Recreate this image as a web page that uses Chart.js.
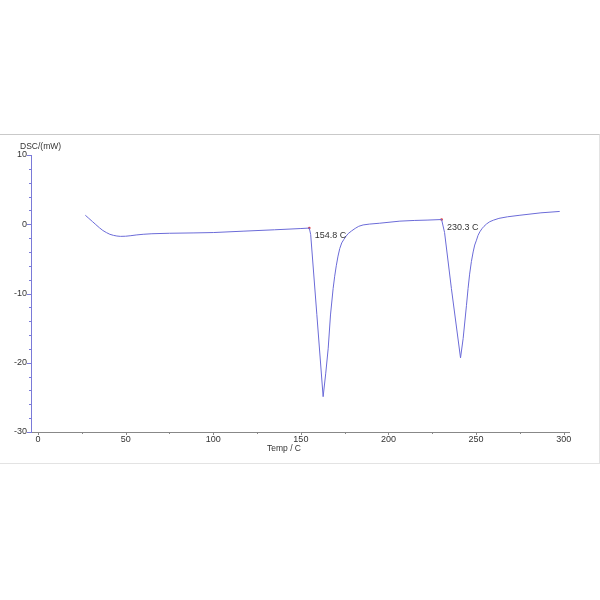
<!DOCTYPE html>
<html>
<head>
<meta charset="utf-8">
<script src="https://cdn.jsdelivr.net/npm/chart.js@4.4.1/dist/chart.umd.min.js"></script>
<style>
  html, body { margin: 0; padding: 0; background: #fff; }
  #wrap { position: absolute; left: 0; top: 0; width: 600px; height: 600px; }
</style>
</head>
<body>
<div id="wrap"><canvas id="c" width="600" height="600"></canvas></div>
<script>
// Temperature (C) and DSC signal (mW)
const temps = [27, 29, 31, 33, 35, 37, 39, 41, 43, 45, 47, 50, 53, 56, 60, 65, 75, 89, 100, 117, 135, 150, 154.8,
  155.6, 159.1, 162.7, 164.2, 165.6, 166.9, 168.4, 169.3, 170.2, 171.2, 172.2, 173.3, 174.5, 175.7, 177, 179, 181, 183, 185.5, 189, 195, 206.5, 215, 222, 230.3,
  232, 235.9, 241.1, 242.6, 244.5, 245.4, 246.3, 247.3, 248.3, 249.2, 250.2, 251.1, 252.1, 253.3, 254.5, 256, 257.8, 260, 263, 268, 275, 287, 297.7];
const dsc = [1.3, 0.85, 0.4, -0.05, -0.5, -0.9, -1.2, -1.45, -1.6, -1.7, -1.75, -1.73, -1.65, -1.55, -1.45, -1.37, -1.3, -1.25, -1.2, -1.0, -0.8, -0.62, -0.55,
  -1.5, -13.0, -24.9, -21.5, -17.9, -13.1, -9.3, -7.5, -6.0, -4.6, -3.5, -2.7, -2.2, -1.75, -1.35, -0.95, -0.6, -0.3, -0.1, 0.02, 0.15, 0.45, 0.55, 0.6, 0.68,
  -1.2, -9.3, -19.3, -16.5, -11.7, -9.3, -7.2, -5.4, -4.0, -3.0, -2.3, -1.6, -1.1, -0.65, -0.3, 0.05, 0.37, 0.6, 0.85, 1.08, 1.3, 1.65, 1.85];
// Onset annotations
const onsetTemps = [154.8, 230.3];
const onsetValues = [-0.55, 0.68];
const onsetLabels = ['154.8 C', '230.3 C'];
// Axis ticks
const xMajorTicks = [0, 50, 100, 150, 200, 250, 300];
const xMinorTicks = [25, 75, 125, 175, 225, 275];
const yMajorTicks = [10, 0, -10, -20, -30];
const yMinorTicks = [8, 6, 4, 2, -2, -4, -6, -8, -12, -14, -16, -18, -22, -24, -26, -28];
const xTitle = 'Temp / C';
const yTitle = 'DSC/(mW)';

const FONT = '"Liberation Sans", Arial, sans-serif';
const LINE = '#6b6bd8';

const deco = {
  id: 'deco',
  beforeDraw(chart) {
    const ctx = chart.ctx;
    ctx.save();
    ctx.strokeStyle = '#c9c9c9';
    ctx.lineWidth = 1;
    ctx.beginPath(); ctx.moveTo(0, 134.5); ctx.lineTo(600, 134.5); ctx.stroke();
    ctx.strokeStyle = '#e3e3e3';
    ctx.beginPath(); ctx.moveTo(0, 463.5); ctx.lineTo(600, 463.5); ctx.stroke();
    ctx.beginPath(); ctx.moveTo(599.5, 134.5); ctx.lineTo(599.5, 463.5); ctx.stroke();
    ctx.restore();
  },
  afterDraw(chart) {
    const ctx = chart.ctx;
    const xs = chart.scales.x, ys = chart.scales.y;
    const a = chart.chartArea;
    ctx.save();
    ctx.lineWidth = 1;
    ctx.strokeStyle = '#7a7ad8';
    yMajorTicks.forEach(v => { const y = Math.round(ys.getPixelForValue(v)) + 0.5; ctx.beginPath(); ctx.moveTo(a.left - 4, y); ctx.lineTo(a.left, y); ctx.stroke(); });
    yMinorTicks.forEach(v => { const y = Math.round(ys.getPixelForValue(v)) + 0.5; ctx.beginPath(); ctx.moveTo(a.left - 2, y); ctx.lineTo(a.left, y); ctx.stroke(); });
    ctx.strokeStyle = '#888';
    xMajorTicks.forEach(v => { const x = Math.round(xs.getPixelForValue(v)) + 0.5; ctx.beginPath(); ctx.moveTo(x, a.bottom); ctx.lineTo(x, a.bottom + 3); ctx.stroke(); });
    xMinorTicks.forEach(v => { const x = Math.round(xs.getPixelForValue(v)) + 0.5; ctx.beginPath(); ctx.moveTo(x, a.bottom); ctx.lineTo(x, a.bottom + 2); ctx.stroke(); });
    ctx.fillStyle = '#333';
    ctx.font = '8.5px ' + FONT;
    ctx.textBaseline = 'middle';
    ctx.textAlign = 'left';
    ctx.fillText(yTitle, 20, 147);
    ctx.textAlign = 'center';
    ctx.fillText(xTitle, 284, 449);
    ctx.font = '9px ' + FONT;
    ctx.textAlign = 'left';
    onsetTemps.forEach((t, i) => {
      const px = xs.getPixelForValue(t), py = ys.getPixelForValue(onsetValues[i]);
      ctx.fillText(onsetLabels[i], px + 5.5, py + 7.5);
    });
    ctx.restore();
  }
};

new Chart(document.getElementById('c'), {
  type: 'line',
  data: {
    datasets: [
      {
        data: temps.map((t, i) => ({ x: t, y: dsc[i] })),
        borderColor: LINE,
        borderWidth: 1,
        pointRadius: 0,
        tension: 0,
        fill: false
      },
      {
        data: onsetTemps.map((t, i) => ({ x: t, y: onsetValues[i] })),
        showLine: false,
        pointRadius: 1.3,
        pointBackgroundColor: '#e04040',
        pointBorderColor: '#e04040',
        borderWidth: 0
      }
    ]
  },
  plugins: [deco],
  options: {
    responsive: false,
    animation: false,
    devicePixelRatio: 1,
    layout: { padding: { left: 0, right: 31, top: 155, bottom: 0 } },
    plugins: { legend: { display: false }, tooltip: { enabled: false }, title: { display: false } },
    scales: {
      x: {
        type: 'linear',
        min: -4,
        max: 303,
        afterBuildTicks: s => { s.ticks = xMajorTicks.map(v => ({ value: v })); },
        afterFit: s => { s.height = 168; },
        grid: { display: false, drawTicks: false },
        border: { display: true, color: '#888', width: 1 },
        ticks: { color: '#333', font: { family: FONT, size: 9 }, padding: 2, maxRotation: 0, autoSkip: false }
      },
      y: {
        type: 'linear',
        min: -30,
        max: 10,
        afterBuildTicks: s => { s.ticks = yMajorTicks.map(v => ({ value: v })); },
        afterFit: s => { s.width = 31; },
        grid: { display: false, drawTicks: false },
        border: { display: true, color: '#7a7ad8', width: 1 },
        ticks: { color: '#333', font: { family: FONT, size: 9 }, padding: 4, autoSkip: false }
      }
    }
  }
});
</script>
</body>
</html>
